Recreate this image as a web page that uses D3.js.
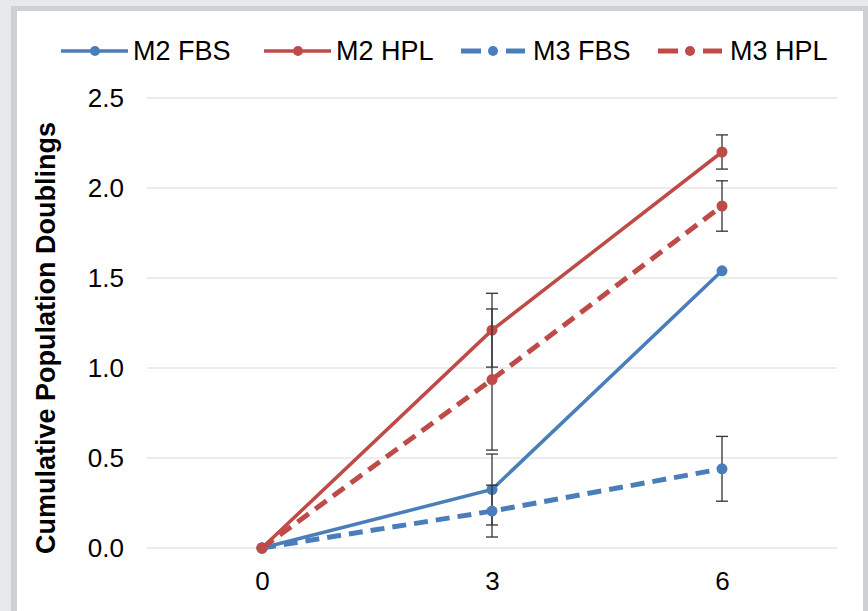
<!DOCTYPE html>
<html>
<head>
<meta charset="utf-8">
<script src="https://cdn.jsdelivr.net/npm/d3@7"></script>
<style>
  body { margin: 0; background: #e8e9eb; }
  svg { display: block; font-family: "Liberation Sans", Arial, sans-serif; }
</style>
</head>
<body>
<svg id="chart" width="868" height="611"></svg>
<script>
// Chart data
var days = ["0", "3", "6"];
var seriesNames = ["M2 FBS", "M2 HPL", "M3 FBS", "M3 HPL"];
var m2Fbs = [0, 0.325, 1.54],  m2FbsErr = [0, 0.197, 0.02];
var m2Hpl = [0, 1.21, 2.2],    m2HplErr = [0, 0.205, 0.095];
var m3Fbs = [0, 0.205, 0.44],  m3FbsErr = [0, 0.144, 0.18];
var m3Hpl = [0, 0.936, 1.90],  m3HplErr = [0, 0.392, 0.14];
var yTicks = [0, 0.5, 1.0, 1.5, 2.0, 2.5];

var blue = "#4a7ebb", red = "#be4b48";
var series = [
    {name: seriesNames[0], values: m2Fbs, err: m2FbsErr, color: blue, dashed: false},
    {name: seriesNames[1], values: m2Hpl, err: m2HplErr, color: red, dashed: false},
    {name: seriesNames[2], values: m3Fbs, err: m3FbsErr, color: blue, dashed: true},
    {name: seriesNames[3], values: m3Hpl, err: m3HplErr, color: red, dashed: true}
];

var font = "Liberation Sans, Arial, sans-serif";
var svg = d3.select("#chart");

// panel frame
svg.append("rect").attr("x", 11).attr("y", 6).attr("width", 857).attr("height", 620)
    .attr("fill", "#cfd0d2");
svg.append("rect").attr("x", 17).attr("y", 11).attr("width", 846).attr("height", 620)
    .attr("fill", "#ffffff");

// scales
var x = d3.scalePoint().domain(days).range([147, 837]).padding(0.5);
var y = d3.scaleLinear().domain([0, 2.5]).range([548, 98]);

// gridlines
svg.append("g").selectAll("line").data(yTicks).join("line")
    .attr("x1", 147).attr("x2", 837)
    .attr("y1", d => y(d)).attr("y2", d => y(d))
    .attr("stroke", "#d9d9d9").attr("stroke-width", 1.2);

// y axis labels
var yAxis = svg.append("g").attr("transform", "translate(124,0)")
    .call(d3.axisLeft(y).tickValues(yTicks).tickFormat(d3.format(".1f")).tickSize(0).tickPadding(0));
yAxis.select(".domain").remove();
yAxis.attr("font-size", 26).attr("font-family", font);
yAxis.selectAll("text").attr("fill", "#000").attr("dy", "0.34em");

// x axis labels
var xAxis = svg.append("g").attr("transform", "translate(0,590)")
    .call(d3.axisBottom(x).tickSize(0).tickPadding(0));
xAxis.select(".domain").remove();
xAxis.attr("font-size", 26).attr("font-family", font);
xAxis.selectAll("text").attr("fill", "#000").attr("dy", 0).attr("y", 0);

// y axis title
svg.append("text")
    .attr("transform", "translate(55,338) rotate(-90)")
    .attr("text-anchor", "middle")
    .attr("font-size", 27).attr("font-weight", "bold")
    .text("Cumulative Population Doublings");

var line = d3.line().x((d, i) => x(days[i])).y(d => y(d));

series.forEach(function(s) {
    var g = svg.append("g");
    g.append("path")
        .attr("d", line(s.values))
        .attr("fill", "none")
        .attr("stroke", s.color)
        .attr("stroke-width", s.dashed ? 5 : 3.5)
        .attr("stroke-dasharray", s.dashed ? "14,8" : null);

    // error bars
    s.values.forEach(function(v, i) {
        if (s.err[i] <= 0.03) return;
        var cx = x(days[i]);
        var top = y(v + s.err[i]), bot = y(v - s.err[i]);
        g.append("line").attr("x1", cx).attr("x2", cx).attr("y1", top).attr("y2", bot)
            .attr("stroke", "#333").attr("stroke-width", 1.3);
        [top, bot].forEach(function(yy) {
            g.append("line").attr("x1", cx - 6).attr("x2", cx + 6).attr("y1", yy).attr("y2", yy)
                .attr("stroke", "#333").attr("stroke-width", 1.3);
        });
    });

    g.selectAll("circle").data(s.values).join("circle")
        .attr("cx", (d, i) => x(days[i])).attr("cy", d => y(d))
        .attr("r", 5.5).attr("fill", s.color);
});

// legend
var legendX = [61, 264, 461, 658];
var legend = svg.append("g");
series.forEach(function(s, i) {
    var lx = legendX[i], ly = 51;
    var item = legend.append("g");
    if (s.dashed) {
        [[lx, lx + 20], [lx + 45, lx + 64]].forEach(function(seg) {
            item.append("line").attr("x1", seg[0]).attr("x2", seg[1]).attr("y1", ly).attr("y2", ly)
                .attr("stroke", s.color).attr("stroke-width", 5);
        });
        item.append("circle").attr("cx", lx + 32).attr("cy", ly).attr("r", 5).attr("fill", s.color);
    } else {
        item.append("line").attr("x1", lx).attr("x2", lx + 67).attr("y1", ly).attr("y2", ly)
            .attr("stroke", s.color).attr("stroke-width", 3.5);
        item.append("circle").attr("cx", lx + 34).attr("cy", ly).attr("r", 5).attr("fill", s.color);
    }
    item.append("text").attr("x", lx + 72).attr("y", ly + 9)
        .attr("font-size", 27).text(s.name);
});
</script>
</body>
</html>
